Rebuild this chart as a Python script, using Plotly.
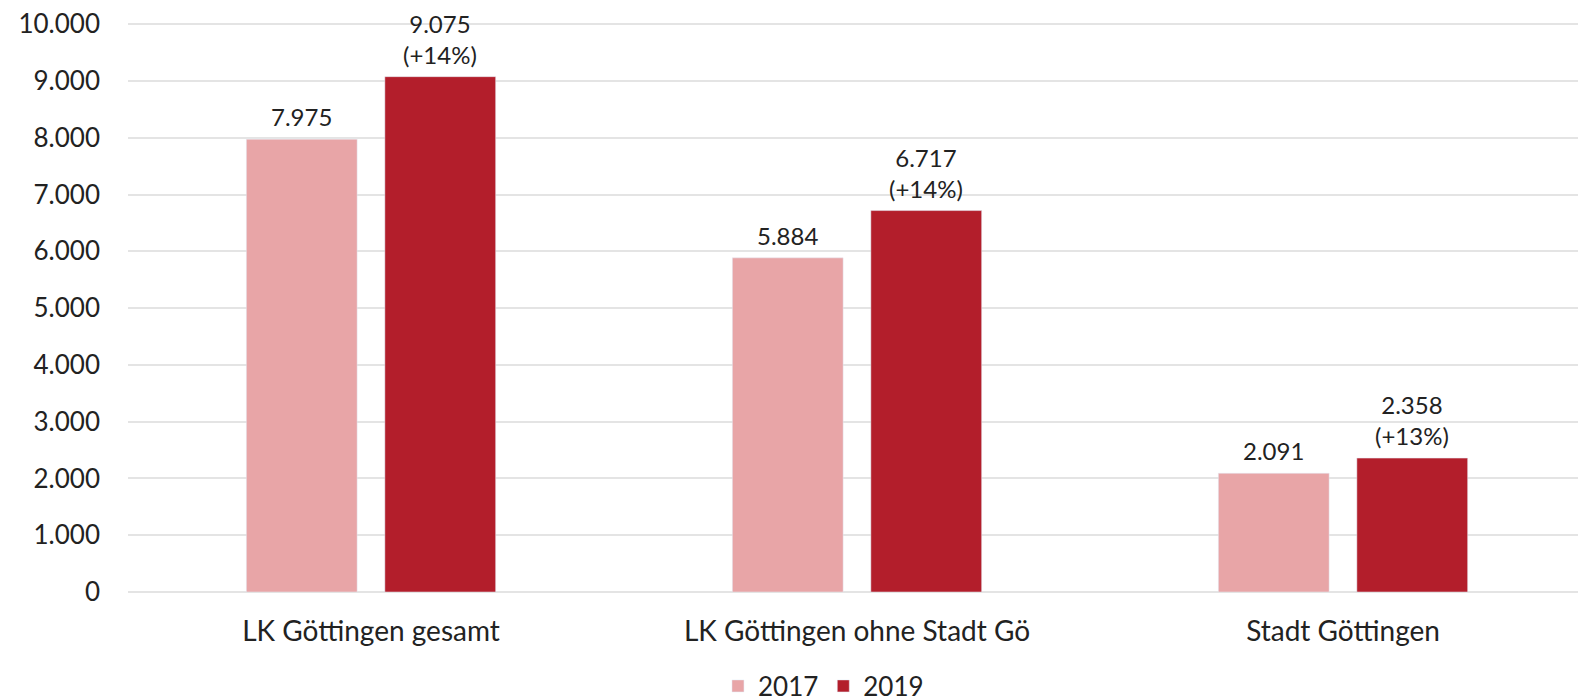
import plotly.graph_objects as go

categories = ["LK Göttingen gesamt", "LK Göttingen ohne Stadt Gö", "Stadt Göttingen"]
values_2017 = [7975, 5884, 2091]
values_2019 = [9075, 6717, 2358]
change_2019 = ["+14%", "+14%", "+13%"]
y_ticks = [0, 1000, 2000, 3000, 4000, 5000, 6000, 7000, 8000, 9000, 10000]

def de(n):
    return f"{n:,}".replace(",", ".")

text_2017 = [de(v) for v in values_2017]
text_2019 = [f"{de(v)}<br>({c})" for v, c in zip(values_2019, change_2019)]

FONT = "Lato, 'Open Sans', sans-serif"
TXT = "#222222"

W, H = 1586, 699
L, R, T, B = 120, 8, 15, 115
BARGAP, GROUPGAP = 0.43, 0.2

fig = go.Figure()
fig.add_trace(go.Bar(name="2017", x=categories, y=values_2017, marker_color="#E8A5A7"))
fig.add_trace(go.Bar(name="2019", x=categories, y=values_2019, marker_color="#B31E2B"))

# value labels placed above each bar (offset = half a bar slot within the group)
cat_w = (W - L - R) / len(categories)
slot = cat_w * (1 - BARGAP) / 2
for texts, vals, sign in ((text_2017, values_2017, -1), (text_2019, values_2019, 1)):
    for c, v, t in zip(categories, vals, texts):
        fig.add_annotation(x=c, y=v, text=t, showarrow=False, xanchor="center",
                           yanchor="bottom", xshift=sign * slot / 2, yshift=6,
                           font=dict(family=FONT, size=24, color=TXT))

fig.update_layout(
    width=W, height=H,
    paper_bgcolor="white", plot_bgcolor="white",
    margin=dict(l=L, r=R, t=T, b=B, autoexpand=False),
    barmode="group", bargap=BARGAP, bargroupgap=GROUPGAP,
    separators=",.",
    font=dict(family=FONT, color=TXT),
    showlegend=True,
    legend=dict(orientation="h", x=0.477, xanchor="center",
                yref="container", y=0.030, yanchor="middle",
                font=dict(family=FONT, size=26, color=TXT), itemwidth=30,
                traceorder="normal"),
)
fig.update_xaxes(
    showgrid=False, showline=False, ticks="", ticklabelstandoff=20,
    tickfont=dict(family=FONT, size=28, color=TXT),
)
fig.update_yaxes(
    range=[0, 10020], tickvals=y_ticks, tickformat=",",
    showgrid=True, gridcolor="#E4E4E4", gridwidth=2,
    zeroline=True, zerolinecolor="#E4E4E4", zerolinewidth=2,
    showline=False, ticks="", ticklabelstandoff=27, ticklabeloverflow="allow",
    tickfont=dict(family=FONT, size=26, color=TXT),
)

fig.write_html("out.html")
